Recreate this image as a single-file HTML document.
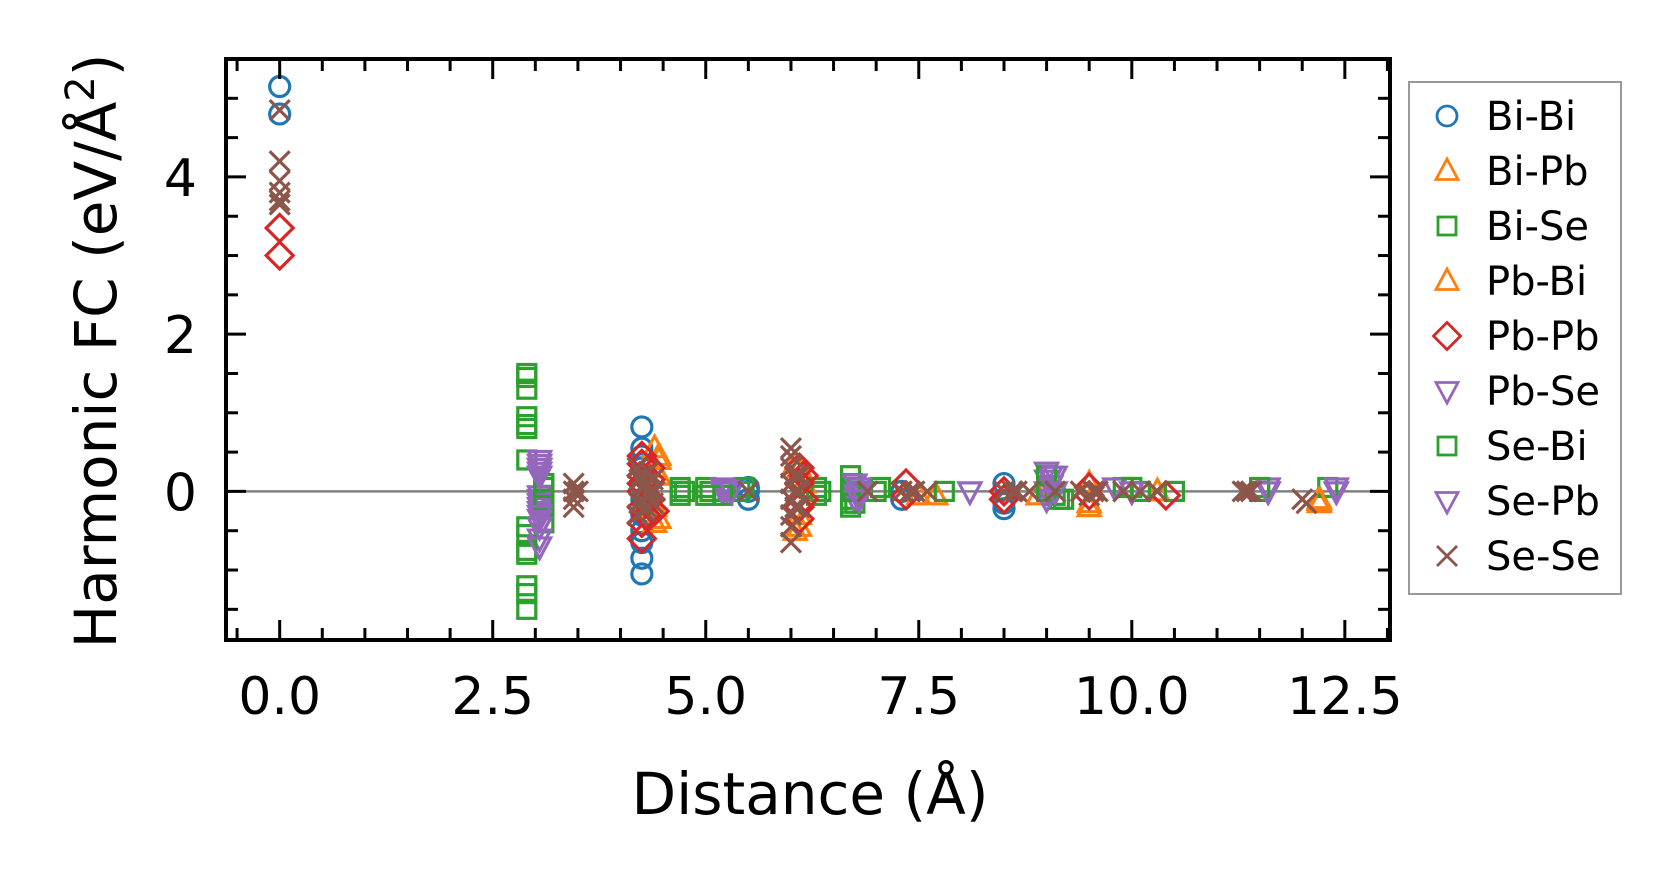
<!DOCTYPE html>
<html><head><meta charset="utf-8"><style>
html,body{margin:0;padding:0;background:#fff}
svg{display:block;font-family:"DejaVu Sans","Liberation Sans",sans-serif}
</style></head><body>
<svg id="chart" width="1679" height="883" viewBox="0 0 1679 883" xmlns="http://www.w3.org/2000/svg">
<g id="plot"></g>
<g id="axes"></g>
<g id="legend"></g>
</svg>
<script>
const xTicks=[0,2.5,5,7.5,10,12.5];
const xTickLabels=["0.0","2.5","5.0","7.5","10.0","12.5"];
const yTicks=[0,2,4];
const yTickLabels=["0","2","4"];
const seriesNames=["Bi-Bi","Bi-Pb","Bi-Se","Pb-Bi","Pb-Pb","Pb-Se","Se-Bi","Se-Pb","Se-Se"];
const biBiX=[0,0,4.25,4.25,4.25,4.25,4.25,4.25,4.25,4.25,4.25,4.25,4.25,4.25,5.5,5.5,5.5,7.3,7.3,8.5,8.5,8.5,9.0];
const biBiY=[5.15,4.8,0.82,0.55,0.45,0.35,0.3,0.1,-0.1,-0.3,-0.5,-0.65,-0.85,-1.05,-0.1,0.05,0.0,-0.1,0.0,0.1,-0.15,-0.22,0.05];
const biPbX=[4.4,4.4,4.4,4.4,4.45,6.1,6.1,6.15,7.5,7.7,8.9,9.5,9.5,10.3,12.2,12.2];
const biPbY=[0.55,0.3,-0.2,-0.4,0.4,0.3,-0.45,0.1,-0.05,-0.05,-0.05,-0.2,0.1,0.0,-0.15,-0.1];
const biSeX=[2.9,2.9,2.9,2.9,2.9,2.9,2.9,2.9,2.9,2.9,2.9,3.1,3.1,3.1,3.1,3.1,3.1,4.7,4.7,4.75,5.0,5.0,5.05,5.4,5.45,6.3,6.3,6.35,6.7,6.7,6.7,6.7,6.72,6.75,6.75,7.0,7.05,7.8,9.1,9.15,9.9,10.1,10.5,11.5,12.3];
const biSeY=[1.5,1.3,0.95,0.8,0.4,-0.45,-0.55,-0.8,-1.2,-1.3,-1.5,0.1,0.05,-0.05,-0.15,-0.2,-0.4,0.05,-0.05,0.0,-0.05,0.05,0.0,0.0,0.05,0.05,-0.05,0.0,0.2,0.05,-0.1,-0.2,0.1,0.0,-0.15,0.0,0.05,0.0,-0.05,-0.1,0.05,0.0,0.0,0.0,0.05];
const pbBiX=[4.45,4.45,4.45,6.05,6.05,6.1,9.5,12.2];
const pbBiY=[0.45,-0.35,0.2,0.35,-0.5,-0.3,-0.15,-0.12];
const pbPbX=[0,0,4.25,4.25,4.25,4.25,4.25,4.25,4.25,4.25,4.3,4.35,4.35,4.35,4.4,6.1,6.1,6.1,6.1,6.15,6.15,7.35,7.35,8.5,8.5,9.5,9.5,10.4];
const pbPbY=[3.35,3.0,0.45,0.35,0.2,0.1,0.0,-0.2,-0.4,-0.6,-0.3,0.3,0.15,-0.1,-0.25,0.3,0.1,-0.2,-0.35,0.2,-0.1,0.1,-0.05,0.0,-0.1,0.05,-0.05,-0.05];
const pbSeX=[3.05,3.05,3.05,3.05,3.05,3.05,3.05,3.05,3.05,3.05,3.05,3.05,5.2,5.2,5.25,6.75,6.75,6.75,6.8,6.8,8.1,9.0,9.0,9.0,9.0,9.05,9.05,9.8,11.6,12.4];
const pbSeY=[0.35,0.3,0.25,0.2,-0.05,-0.1,-0.15,-0.2,-0.25,-0.35,-0.45,-0.6,0.05,0.0,0.02,0.1,0.0,-0.1,0.05,-0.05,0.0,0.25,0.15,0.0,-0.1,0.2,0.08,0.05,0.05,0.05];
const seBiX=[2.9,2.9,2.9,3.1,3.1,4.7,5.2,6.7,6.7,9.0,9.0,9.2,10.0,11.5];
const seBiY=[1.45,0.85,-0.75,0.05,-0.1,0.0,-0.05,0.0,-0.15,0.2,0.0,-0.1,0.05,0.05];
const sePbX=[3.05,3.05,3.05,3.05,3.05,3.05,5.3,6.8,6.8,9.1,9.1,10.0,11.6,12.4];
const sePbY=[0.4,0.2,0.3,-0.3,-0.45,-0.7,0.0,0.0,-0.1,0.2,0.0,0.0,0.0,0.0];
const seSeX=[0,0,0,0,0,0,3.45,3.45,3.45,3.45,3.5,4.2,4.25,4.3,4.35,4.25,4.3,4.2,4.4,4.22,4.28,4.33,4.38,4.22,4.28,4.33,4.38,5.5,6.0,6.0,6.0,6.0,6.0,6.0,6.0,6.0,6.05,6.05,6.05,6.1,6.1,6.1,6.9,7.3,7.4,7.45,7.6,8.5,8.6,8.65,8.8,9.1,9.4,9.5,9.55,9.6,9.9,10.1,10.3,11.3,11.35,11.4,12.0,12.05];
const seSeY=[4.85,4.2,3.95,3.8,3.7,3.65,0.1,0.0,-0.1,-0.2,0.0,0.3,0.2,0.1,0.0,-0.1,-0.2,-0.3,0.0,0.15,0.05,-0.05,0.15,-0.15,-0.25,0.25,-0.15,0.0,0.55,0.45,0.3,0.1,-0.1,-0.3,-0.45,-0.65,0.0,-0.2,0.2,0.2,0.0,-0.2,0.0,0.0,0.0,0.0,0.0,0.0,0.0,0.0,0.0,0.0,0.0,-0.05,0.0,0.0,0.0,0.0,0.0,0.0,0.0,0.0,-0.1,-0.15];

const NS="http://www.w3.org/2000/svg";
const L=226,R=1390,T=59,B=640;
const xMin=-0.63,xMax=13.03,yMin=-1.89,yMax=5.5;
function sx(v){return L+(v-xMin)/(xMax-xMin)*(R-L);}
function sy(v){return B-(v-yMin)/(yMax-yMin)*(B-T);}
function mk(tag,attrs,parent){const e=document.createElementNS(NS,tag);for(const k in attrs)e.setAttribute(k,attrs[k]);parent.appendChild(e);return e;}
const colors=["#1f77b4","#ff7f0e","#2ca02c","#ff7f0e","#d62728","#9467bd","#2ca02c","#9467bd","#8c564b"];
const shapes=["o","^","s","^","D","v","s","v","x"];
function marker(shape,cx,cy,color,parent,lw){
  const st={fill:"none",stroke:color,"stroke-width":lw};
  let e;
  if(shape==="o")e=mk("circle",Object.assign({cx:cx,cy:cy,r:10},st),parent);
  else if(shape==="s")e=mk("rect",Object.assign({x:cx-9,y:cy-9,width:18,height:18},st),parent);
  else if(shape==="^")e=mk("polygon",Object.assign({points:`${cx},${cy-12} ${cx-11},${cy+8.5} ${cx+11},${cy+8.5}`},st),parent);
  else if(shape==="v")e=mk("polygon",Object.assign({points:`${cx},${cy+12} ${cx-11},${cy-8.5} ${cx+11},${cy-8.5}`},st),parent);
  else if(shape==="D")e=mk("polygon",Object.assign({points:`${cx},${cy-13.5} ${cx+13.5},${cy} ${cx},${cy+13.5} ${cx-13.5},${cy}`},st),parent);
  else e=mk("path",Object.assign({d:`M${cx-10},${cy-10}L${cx+10},${cy+10}M${cx-10},${cy+10}L${cx+10},${cy-10}`},st),parent);
  return e;
}
const plot=document.getElementById("plot");
const axes=document.getElementById("axes");
const legend=document.getElementById("legend");
const zl=mk("line",{x1:L,x2:R,y1:sy(0),y2:sy(0),stroke:"#808080","stroke-width":2.5},plot);


const allX=[biBiX,biPbX,biSeX,pbBiX,pbPbX,pbSeX,seBiX,sePbX,seSeX];
const allY=[biBiY,biPbY,biSeY,pbBiY,pbPbY,pbSeY,seBiY,sePbY,seSeY];
allX.forEach((xs,i)=>{
  const g=mk("g",{},plot);
  
  
  xs.forEach((xv,j)=>{
    const m=marker(shapes[i],sx(xv),sy(allY[i][j]),colors[i],g,3.2);
    
    
  });
});
const fr=mk("rect",{x:L,y:T,width:R-L,height:B-T,fill:"none",stroke:"#000","stroke-width":4},axes);


for(let v=-0.5;v<=13.0;v+=0.5){
  const major=xTicks.some(t=>Math.abs(t-v)<1e-6);const len=major?20:12;const x=sx(v);
  const t1=mk("line",{x1:x,x2:x,y1:B,y2:B-len,stroke:"#000","stroke-width":3},axes);
  
  
  const t2=mk("line",{x1:x,x2:x,y1:T,y2:T+len,stroke:"#000","stroke-width":3},axes);
  
  
}
xTicks.forEach((v,i)=>{
  const t=mk("text",{x:sx(v),y:714,"text-anchor":"middle","font-size":52,fill:"#000"},axes);
  t.textContent=xTickLabels[i];
  
  
});
for(let v=-1.5;v<=5.0;v+=0.5){
  const major=yTicks.some(t=>Math.abs(t-v)<1e-6);const len=major?20:12;const y=sy(v);
  const t1=mk("line",{x1:L,x2:L+len,y1:y,y2:y,stroke:"#000","stroke-width":3},axes);
  
  
  const t2=mk("line",{x1:R,x2:R-len,y1:y,y2:y,stroke:"#000","stroke-width":3},axes);
  
  
}
yTicks.forEach((v,i)=>{
  const t=mk("text",{x:197,y:sy(v)+19,"text-anchor":"end","font-size":52,fill:"#000"},axes);
  t.textContent=yTickLabels[i];
  
  
});
const xl=mk("text",{x:810,y:814,"text-anchor":"middle","font-size":58,fill:"#000"},axes);
xl.textContent="Distance (Å)";


const yl=mk("text",{x:0,y:0,"text-anchor":"middle","font-size":58,fill:"#000",transform:"translate(116,351) rotate(-90)"},axes);
yl.innerHTML='Harmonic FC (eV/Å<tspan dy="-22" font-size="40">2</tspan><tspan dy="22">)</tspan>';


const lb=mk("rect",{x:1409,y:82,width:212,height:512,fill:"#fff",stroke:"#999","stroke-width":2},legend);


seriesNames.forEach((n,i)=>{
  const y=116+i*55;
  const g=mk("g",{},legend);
  
  
  marker(shapes[i],1447,y,colors[i],g,2.8);
  const t=mk("text",{x:1486,y:y+14,"font-size":40,fill:"#000"},g);
  t.textContent=n;
});
</script>
</body></html>
